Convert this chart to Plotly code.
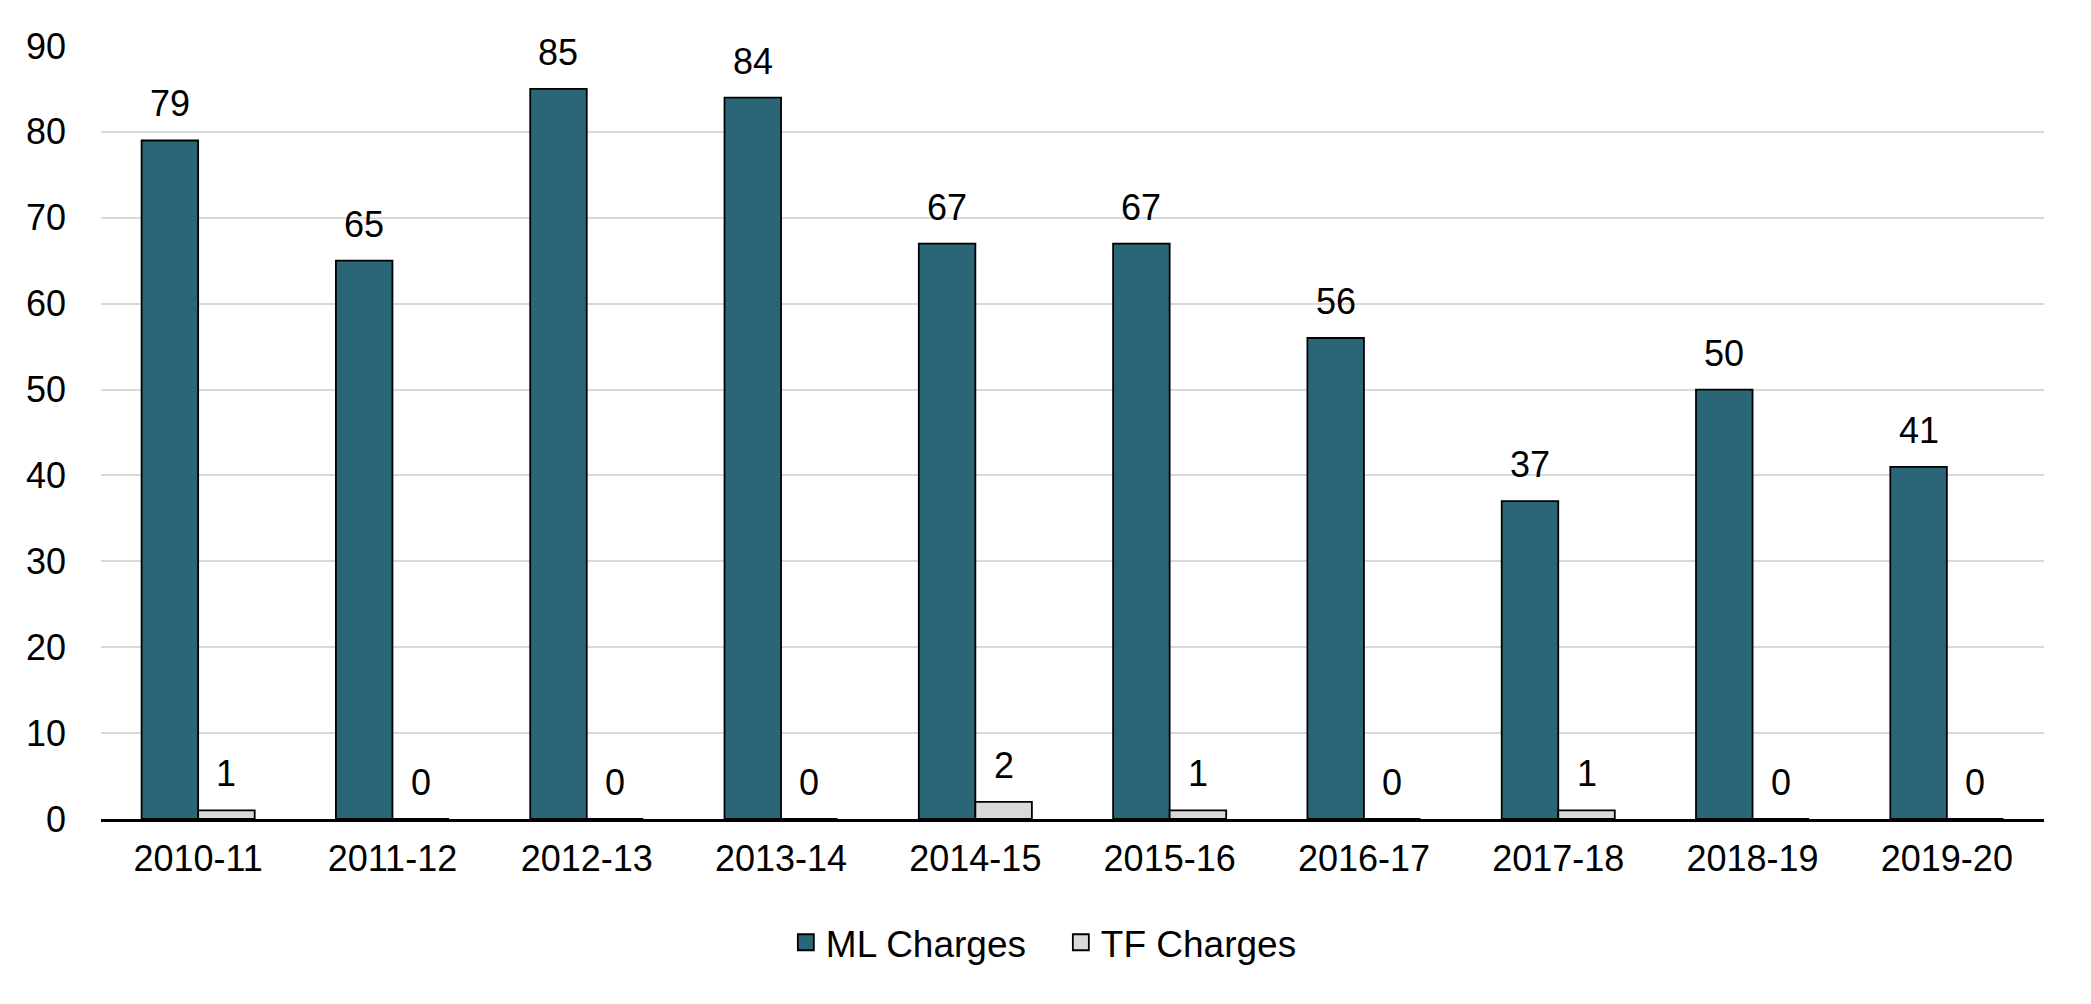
import plotly.graph_objects as go

categories = ["2010-11", "2011-12", "2012-13", "2013-14", "2014-15",
              "2015-16", "2016-17", "2017-18", "2018-19", "2019-20"]
ml_charges = [79, 65, 85, 84, 67, 67, 56, 37, 50, 41]
tf_charges = [1, 0, 0, 0, 2, 1, 0, 1, 0, 0]
y_ticks = [0, 10, 20, 30, 40, 50, 60, 70, 80, 90]

FONT = "Liberation Sans, Arial, sans-serif"
FS = 36
ML_COLOR = "#2a6677"
TF_COLOR = "#d9d9d9"

# page body has an 8px margin, so the figure is sized to fit the window
W, H = 2083, 996
L, R, T, B = 93, 47, 38, 185
BARGAP = 0.418

fig = go.Figure()
fig.add_trace(go.Bar(
    x=categories, y=ml_charges, name="ML Charges", showlegend=False,
    marker=dict(color=ML_COLOR, line=dict(color="#000000", width=1.8)),
))
fig.add_trace(go.Bar(
    x=categories, y=tf_charges, name="TF Charges", showlegend=False,
    marker=dict(color=TF_COLOR, line=dict(color="#000000", width=1.8)),
))
# legend entries with larger square symbols
for nm, col in [("ML Charges", ML_COLOR), ("TF Charges", TF_COLOR)]:
    fig.add_trace(go.Scatter(
        x=[None], y=[None], mode="markers", name=nm,
        marker=dict(symbol="square", size=16, color=col,
                    line=dict(color="#000000", width=1.8)),
    ))

# data labels placed above each bar
cat_w = (W - L - R) / len(categories)
bar_w = cat_w * (1 - BARGAP) / 2
annotations = []
for series, shift in [(ml_charges, -bar_w / 2), (tf_charges, bar_w / 2)]:
    for c, v in zip(categories, series):
        annotations.append(dict(
            x=c, y=v, xref="x", yref="y", text=str(v), showarrow=False,
            xanchor="center", yanchor="bottom", xshift=shift, yshift=14,
            font=dict(size=FS, color="#000000", family=FONT),
        ))

fig.update_layout(
    width=W, height=H,
    paper_bgcolor="white", plot_bgcolor="white",
    barmode="group", bargap=BARGAP, bargroupgap=0,
    margin=dict(l=L, r=R, t=T, b=B),
    font=dict(family=FONT, size=FS, color="#000000"),
    annotations=annotations,
    legend=dict(orientation="h", x=0.494, xanchor="center", y=-0.16, yanchor="middle",
                font=dict(size=37), itemwidth=30, entrywidth=230,
                traceorder="normal"),
    xaxis=dict(type="category", showline=True, linecolor="#000000", linewidth=3, ticks="",
               tickfont=dict(size=FS), ticklabelstandoff=6),
    yaxis=dict(range=[0, 90], tickvals=y_ticks, showgrid=True, gridcolor="#d9d9d9",
               gridwidth=2, zeroline=False, ticks="", tickfont=dict(size=FS),
               ticklabelstandoff=34),
)

fig.write_html("out.html")
